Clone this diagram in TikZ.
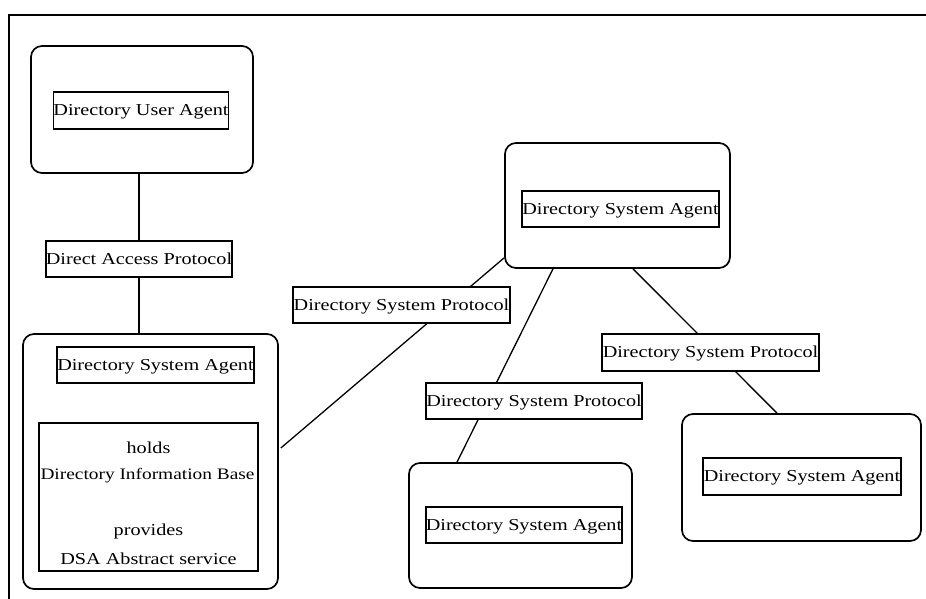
\documentclass[tikz,border=0pt]{standalone}
\usepackage{fontspec}
\setmainfont[FakeStretch=1.21]{Liberation Serif}
\usetikzlibrary{calc,backgrounds}
\begin{document}
\begin{tikzpicture}[x=1pt,y={(0pt,-1pt)},
  agentbox/.style={draw,line width=1.7pt,rounded corners=11pt,inner sep=0pt},
  labelbox/.style={draw,line width=1.6pt,fill=white,inner sep=0pt,minimum height=36pt,
    text depth=1pt,font=\fontsize{16.7}{18}\selectfont},
  plaintext/.style={inner sep=0pt,font=\fontsize{16.7}{18}\selectfont},
  link/.style={line width=1.3pt}]
\useasboundingbox (0,0) rectangle (926,599);

% frame
\draw[line width=2.4pt] (9,15) -- (926,15);
\draw[line width=1.8pt] (9,14) -- (9,599);

% user agent
\node[agentbox,minimum width=222pt,minimum height=127pt] (ua) at (142,109.5) {};
\node[labelbox,minimum width=174pt,minimum height=37pt] (uat) at (141,110.5) {Directory User Agent};

% access protocol
\node[labelbox,minimum width=184pt] (dap) at (139,259) {Direct Access Protocol};

% local system agent with its information base
\node[agentbox,minimum width=255pt,minimum height=255pt] (ldsa) at (150.5,461.5) {};
\node[labelbox,minimum width=197pt] (ldsat) at (155.5,365) {Directory System Agent};
\node[draw,line width=1.6pt,minimum width=219pt,minimum height=148pt,inner sep=0pt] (dib) at (148.5,497) {};
\node[plaintext] (h1) at (148.5,448) {holds};
\node[plaintext,font=\fontsize{16}{18}\selectfont] (h2) at (147.5,476) {Directory Information Base};
\node[plaintext] (h3) at (148.5,531) {provides};
\node[plaintext] (h4) at (148.5,559) {DSA Abstract service};

% remote system agents
\node[agentbox,minimum width=225pt,minimum height=125pt] (cdsa) at (617.5,205.5) {};
\node[labelbox,minimum width=197pt] (cdsat) at (620.5,209) {Directory System Agent};

\node[agentbox,minimum width=223pt,minimum height=125pt] (bdsa) at (520.5,525.5) {};
\node[labelbox,minimum width=196pt] (bdsat) at (524,525) {Directory System Agent};

\node[agentbox,minimum width=239pt,minimum height=127pt] (rdsa) at (801.5,477.5) {};
\node[labelbox,minimum width=198pt,minimum height=37pt] (rdsat) at (802,476.5) {Directory System Agent};

% protocol labels
\node[labelbox,minimum width=217pt] (dsp1) at (401.5,305) {Directory System Protocol};
\node[labelbox,minimum width=216pt] (dsp2) at (534,401) {Directory System Protocol};
\node[labelbox,minimum width=217pt,minimum height=37pt] (dsp3) at (710.5,352.5) {Directory System Protocol};

% connectors
\draw[link,line width=1.6pt] (ua.south -| dap.north) -- (dap.north);
\draw[link,line width=1.6pt] (dap.south) -- (dap.south |- ldsa.north);
\begin{pgfonlayer}{background}
  \draw[link] ($(ldsa.east)+(2,-13.5)$) -- ($(cdsa.south west)+(0,-11)$);
  \draw[link] ($(cdsa.south)+(-64.5,0)$) -- ($(bdsa.north)+(-63.5,0)$);
  \draw[link] ($(cdsa.south)+(15.5,0)$) -- ($(rdsa.north)+(-24.5,0)$);
\end{pgfonlayer}
\end{tikzpicture}
\end{document}
